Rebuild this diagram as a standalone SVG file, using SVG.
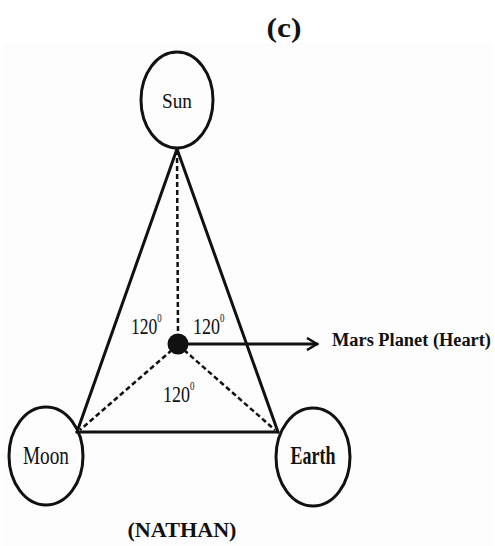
<svg xmlns="http://www.w3.org/2000/svg" width="495" height="546" viewBox="0 0 495 546">
<style>
.t{font-family:"Liberation Serif","Times New Roman",serif;fill:#111;}
.b{font-weight:bold;}
.ang{font-size:24px;}
.sup{font-size:12px;}
.node{fill:none;stroke:#111;stroke-width:3;}
.solid{stroke:#111;stroke-width:3;fill:none;stroke-linecap:round;}
.dash{stroke:#111;stroke-width:2.5;fill:none;stroke-dasharray:5,3;}
</style>
<defs>
<marker id="arr" markerWidth="14" markerHeight="14" refX="11" refY="7" orient="auto" markerUnits="userSpaceOnUse">
<path d="M1,1 L11,7 L1,13" fill="none" stroke="#111" stroke-width="2.5"/>
</marker>
</defs>
<rect x="0" y="0" width="495" height="546" fill="#fff"/>
<rect x="3" y="43" width="490" height="503" fill="#fdfdfd"/>
<text class="t b" x="284" y="37" font-size="27" text-anchor="middle" textLength="35" lengthAdjust="spacingAndGlyphs">(c)</text>
<g id="connectors">
<line class="solid" x1="177" y1="149" x2="77" y2="432"/>
<line class="solid" x1="177" y1="149" x2="278" y2="432"/>
<line class="solid" x1="77" y1="432" x2="278" y2="432" stroke-width="3.5"/>
<line class="dash" x1="177" y1="150" x2="178" y2="334"/>
<line class="dash" x1="172" y1="350" x2="80" y2="430"/>
<line class="dash" x1="184" y1="350" x2="275" y2="430"/>
<line class="solid" x1="186" y1="344" x2="317" y2="344" stroke-width="2.5" marker-end="url(#arr)"/>
</g>
<g id="sun">
<ellipse class="node" cx="177" cy="100" rx="36" ry="48"/>
<text class="t" x="177" y="108" font-size="22" text-anchor="middle" textLength="30" lengthAdjust="spacingAndGlyphs">Sun</text>
</g>
<g id="moon">
<ellipse class="node" cx="46" cy="456" rx="37" ry="49"/>
<text class="t" x="46" y="464" font-size="25" text-anchor="middle" textLength="46" lengthAdjust="spacingAndGlyphs">Moon</text>
</g>
<g id="earth">
<ellipse class="node" cx="313" cy="457" rx="37" ry="49"/>
<text class="t b" x="313" y="464" font-size="25" text-anchor="middle" textLength="45" lengthAdjust="spacingAndGlyphs">Earth</text>
</g>
<g id="mars">
<circle cx="178" cy="344" r="10.5" fill="#111"/>
</g>
<g id="mars-label">
<text class="t b" x="332" y="346" font-size="18.5" textLength="159" lengthAdjust="spacingAndGlyphs">Mars Planet (Heart)</text>
</g>
<g id="angles">
<text class="t ang" transform="translate(131,334) scale(0.73,1)">120<tspan class="sup" dy="-12">0</tspan></text>
<text class="t ang" transform="translate(193,334) scale(0.75,1)">120<tspan class="sup" dy="-12">0</tspan></text>
<text class="t ang" transform="translate(163,402) scale(0.75,1)">120<tspan class="sup" dy="-12">0</tspan></text>
</g>
<text class="t b" x="182" y="537" font-size="21" text-anchor="middle" textLength="109" lengthAdjust="spacingAndGlyphs">(NATHAN)</text>
</svg>
